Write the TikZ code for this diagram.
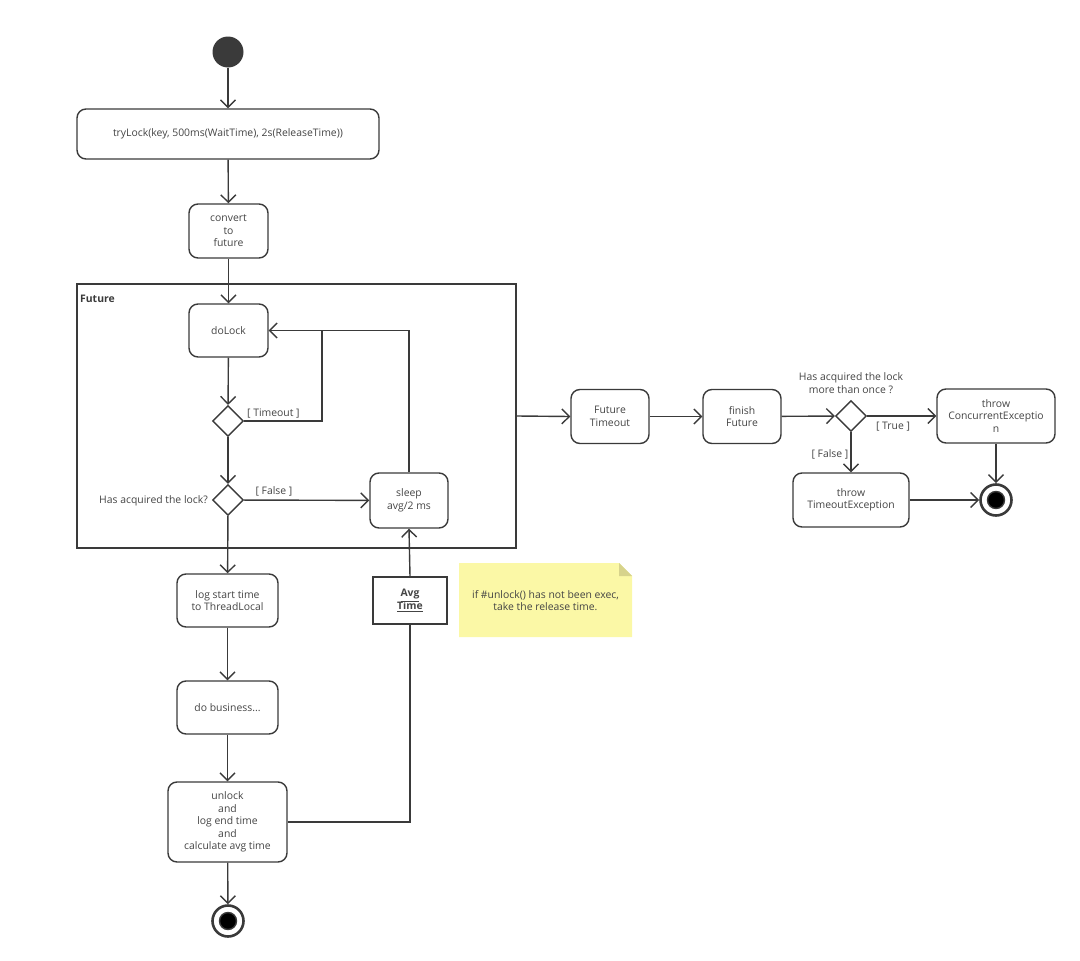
\documentclass[tikz,border=0pt]{standalone}
\usepackage{fontspec}
\setmainfont{Open Sans}
\usetikzlibrary{shapes.geometric,arrows.meta}
\definecolor{ln}{HTML}{3A3A3A}
\definecolor{tx}{HTML}{444444}
\definecolor{notefill}{RGB}{251,248,166}
\definecolor{notefold}{RGB}{215,211,140}
\newcommand{\fs}{\fontsize{10.4}{12.5}\selectfont}
\tikzset{
  act/.style={draw=ln, line width=1.4pt, rounded corners=9pt, align=center, inner sep=0pt, text=tx, font=\fs},
  dec/.style={draw=ln, line width=1.4pt, diamond, aspect=1, minimum width=31, minimum height=31, inner sep=0pt},
  lbl/.style={text=tx, inner sep=0pt, align=center, font=\fs},
  arr/.style={draw=ln, line width=1.4pt, -{Straight Barb[length=7.5pt,width=15pt,line width=1.4pt]}},
  ln/.style={draw=ln, line width=1.4pt},
}
\begin{document}
\begin{tikzpicture}[x=1pt,y=-1pt]
\useasboundingbox (0,0) rectangle (1080,961);
% frame
\node[draw=ln, line width=1.4pt, minimum width=439, minimum height=264, inner sep=0pt] (frame) at (296.5,416) {};
\node[lbl, anchor=west, font=\fs\bfseries, text=ln] (framelbl) at (80,299) {Future};
% start
\node[circle, fill=ln, minimum size=31, inner sep=0pt] (start) at (228,52) {};
\node[act, minimum width=302, minimum height=50] (trylock) at (228,134) {tryLock(key, 500ms(WaitTime), 2s(ReleaseTime))};
\node[act, minimum width=79, minimum height=54] (convert) at (228.5,231) {convert\\to\\future};
\node[act, minimum width=79, minimum height=53] (dolock) at (228.5,330.5) {doLock};
\node[dec] (d1) at (228,421) {};
\node[dec] (d2) at (228,500) {};
\node[act, minimum width=78, minimum height=55] (sleep) at (409,500.5) {sleep\\avg/2 ms};
\node[act, minimum width=101, minimum height=53] (logst) at (227.5,600.5) {log start time\\to ThreadLocal};
\node[act, minimum width=101, minimum height=53] (biz) at (227.5,707.5) {do business...};
\node[act, minimum width=119, minimum height=80] (unlock) at (227.5,822) {unlock\\and\\log end time\\and\\calculate avg time};
\node[circle, draw=ln, line width=2.6pt, minimum size=31, inner sep=0pt] (end1) at (228,921) {};
\fill[ln] (end1.center) circle (8.5);
\node[draw=ln, line width=1.4pt, minimum width=74, minimum height=47, inner sep=0pt, align=center, text=tx, font=\fs\bfseries] (avg) at (410,600.5) {\underline{Avg}\\\underline{Time}};
% note
\fill[notefill] (459,563) -- (619,563) -- (632,576) -- (632,637) -- (459,637) -- cycle;
\fill[notefold] (619,563) -- (632,576) -- (619,576) -- cycle;
\node[lbl] (note) at (545.5,600.5) {if \#unlock() has not been exec,\\take the release time.};
% right part
\node[act, minimum width=78, minimum height=54] (ft) at (610,416.5) {Future\\Timeout};
\node[act, minimum width=78, minimum height=54] (ff) at (742,416.5) {finish\\Future};
\node[dec] (d3) at (851,416) {};
\node[lbl] (d3lbl) at (851,383) {Has acquired the lock\\more than once ?};
\node[act, minimum width=118, minimum height=54] (conc) at (996,416) {throw\\ConcurrentExceptio\\n};
\node[act, minimum width=116, minimum height=54] (tex) at (851,500) {throw\\TimeoutException};
\node[circle, draw=ln, line width=2.6pt, minimum size=31, inner sep=0pt] (end2) at (996,500) {};
\fill[ln] (end2.center) circle (8.5);
% connectors
\draw[arr] (start) -- (trylock);
\draw[arr] (trylock) -- (convert);
\draw[arr] (convert) -- (dolock);
\draw[arr] (dolock) -- (d1);
\draw[arr] (d1) -- (d2);
\coordinate (jt) at (322,330.5);
\draw[ln] (d1.east) -| (jt);
\draw[arr] (sleep.north) |- (dolock.east);
\node[lbl, anchor=south west] (tolbl) at (247,418) {[ Timeout ]};
\draw[arr] (d2) -- (sleep);
\node[lbl] (falselbl) at (274,491) {[ False ]};
\node[lbl, anchor=east] (d2lbl) at (208,500.5) {Has acquired the lock?};
\draw[arr] (d2) -- (logst);
\draw[arr] (logst) -- (biz);
\draw[arr] (biz) -- (unlock);
\draw[arr] (unlock) -- (end1);
\draw[ln] (unlock.east) -| (avg.south);
\draw[arr] (avg.north) -- (sleep.south);
\draw[arr] (frame.east) -- (ft.west);
\draw[arr] (ft) -- (ff);
\draw[arr] (ff) -- (d3);
\draw[arr] (d3) -- (conc);
\node[lbl] (truelbl) at (893,427) {[ True ]};
\draw[arr] (d3) -- (tex);
\node[lbl] (f2lbl) at (830,454) {[ False ]};
\draw[arr] (conc) -- (end2);
\draw[arr] (tex) -- (end2);
\end{tikzpicture}
\end{document}
